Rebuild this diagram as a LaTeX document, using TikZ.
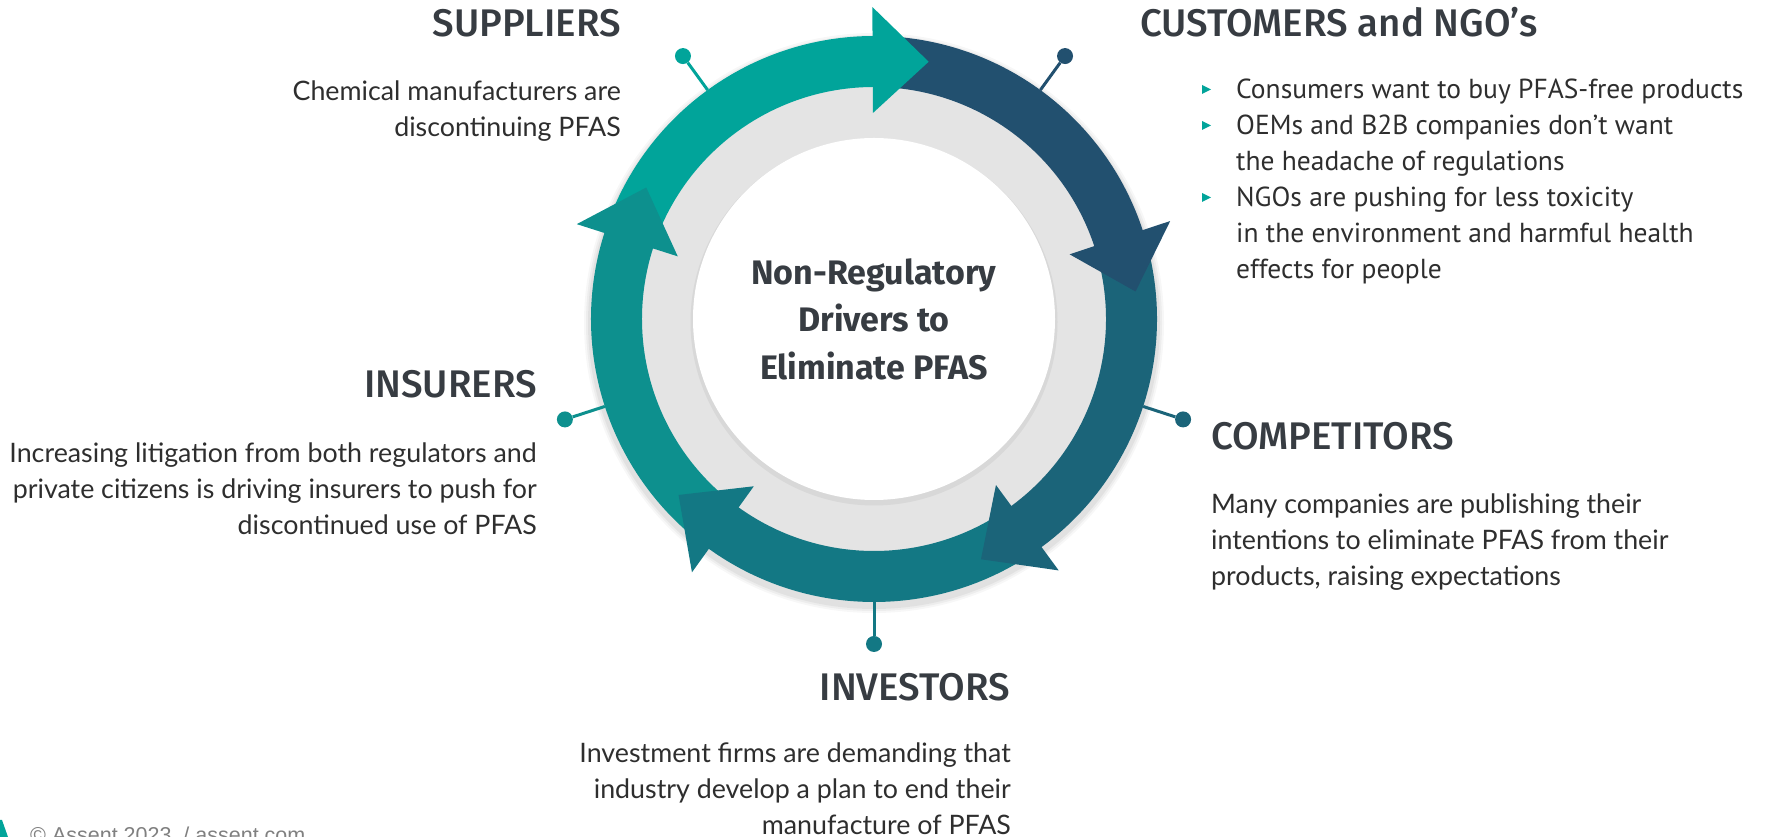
\documentclass[tikz,border=0pt]{standalone}
\usepackage{fontspec}
\setmainfont{Lato}
\newfontfamily\headfont{Fira Sans Medium}
\newfontfamily\boldfont{Fira Sans}
\newfontfamily\listfont{PT Sans}
\newfontfamily\footfont{Liberation Sans}

\definecolor{topteal}{HTML}{01A49A}
\definecolor{navyblue}{HTML}{22506F}
\definecolor{rightteal}{HTML}{1B6479}
\definecolor{bottomteal}{HTML}{137884}
\definecolor{leftteal}{HTML}{0D908E}
\definecolor{diskgray}{HTML}{E4E4E4}
\definecolor{headgray}{HTML}{373C42}
\definecolor{bodygray}{HTML}{2E2E2E}

\begin{document}
\begin{tikzpicture}[x=1pt, y=1pt,
        heading/.style={font=\headfont\fontsize{38.5}{44}\selectfont, text=headgray, inner sep=0pt},
        bodytext/.style={font=\fontsize{26.8}{36}\selectfont, text=bodygray, inner sep=0pt},
        listtext/.style={font=\listfont\fontsize{27.5}{36}\selectfont, text=bodygray, inner sep=0pt, align=left},
        dot/.style={circle, inner sep=0pt, minimum size=16pt}]
        \useasboundingbox (0,0) rectangle (1773,837);
        \coordinate (c) at (874,518);

        % Halkanın gölgesi
        \foreach \r/\o in {290/0.03, 288/0.04, 286/0.05}
            \fill[black, opacity=\o] ([yshift=-4pt]c) circle (\r);

        % Gri disk ve beyaz merkez
        \fill[diskgray] (c) circle (236);
        \fill[black, opacity=0.05] ([yshift=-3pt]c) circle (183.5);
        \fill[white] (c) circle (181);

        % Okların gövdeleri
        \foreach \a/\col in {90/topteal, 18/navyblue, -54/rightteal, -126/bottomteal, -198/leftteal}
            \fill[\col] ([shift={(c)}]\a+71:283) arc[start angle=\a+71, end angle=\a, radius=283]
                -- ([shift={(c)}]\a:232) arc[start angle=\a, end angle=\a+71, radius=232] -- cycle;

        % Ok başları
        \foreach \a/\col in {90/topteal, 18/navyblue, -54/rightteal, -126/bottomteal, -198/leftteal}
            \fill[\col] ([shift={(c)}]\a+0.3:312) -- ([shift={(c)}]\a-12:263) -- ([shift={(c)}]\a+0.3:206) -- cycle;

        % Bağlantı noktaları
        \foreach \a/\col/\n in {126/topteal/sup, 54/navyblue/cus, -18/rightteal/com, -90/bottomteal/inv, 198/leftteal/ins} {
            \coordinate (r\n) at ([shift={(c)}]\a:283);
            \node[dot, fill=\col] (d\n) at ([shift={(c)}]\a:325) {};
            \draw[\col, line width=3pt] (r\n) -- (d\n);
        }

        % Merkez yazı
        \node[font=\boldfont\bfseries\fontsize{34}{47.5}\selectfont, text=headgray, align=center] (title) at (c)
            {Non-Regulatory\\Drivers to\\Eliminate PFAS};

        % Başlıklar ve metinler
        \node[heading, anchor=base east] (supplier) at (621,800) {SUPPLIERS};
        \node[bodytext, align=right, anchor=base east] (suppliertext) at (621,700)
            {Chemical manufacturers are\\discontinuing PFAS};

        \node[heading, anchor=base west] (customer) at (1140,800) {CUSTOMERS and NGO’s};
        \node[listtext, anchor=base west] (customertext) at (1236,558)
            {Consumers want to buy PFAS-free products\\OEMs and B2B companies don’t want\\the headache of regulations\\NGOs are pushing for less toxicity\\in the environment and harmful health\\effects for people};
        \foreach \y in {747.5, 711.5, 639.5}
            \fill[topteal] (1202,\y+4.5) -- (1211,\y) -- (1202,\y-4.5) -- cycle;

        \node[heading, anchor=base east] (insurer) at (537,439) {INSURERS};
        \node[bodytext, align=right, anchor=base east] (insurertext) at (537,302)
            {Increasing litigation from both regulators and\\private citizens is driving insurers to push for\\discontinued use of PFAS};

        \node[heading, anchor=base west] (competitor) at (1211,387) {COMPETITORS};
        \node[bodytext, align=left, anchor=base west] (competitortext) at (1211,251)
            {Many companies are publishing their\\intentions to eliminate PFAS from their\\products, raising expectations};

        \node[heading, anchor=base east] (investor) at (1010,136) {INVESTORS};
        \node[bodytext, align=right, anchor=base east] (investortext) at (1011,2)
            {Investment firms are demanding that\\industry develop a plan to end their\\manufacture of PFAS};

        % Alt bilgi
        \fill[topteal] (0,0) -- (0,17) -- (2,17) -- (8,0) -- cycle;
        \node[font=\footfont\fontsize{21.5}{24}\selectfont, text=gray, anchor=base west, inner sep=0pt] (footer) at (30,-6)
            {© Assent 2023 \ / assent.com};
    \end{tikzpicture}
\end{document}
